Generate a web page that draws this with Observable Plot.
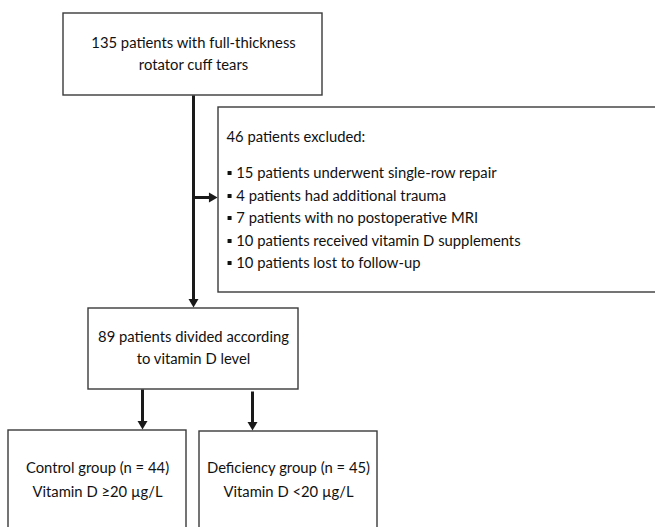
<!DOCTYPE html>
<html><head><meta charset="utf-8">
<script src="https://cdn.jsdelivr.net/npm/d3@7"></script>
<script src="https://cdn.jsdelivr.net/npm/@observablehq/plot@0.6"></script>
<style>
html,body{margin:0;padding:0;background:#fff;}
#chart svg{display:block;}
</style>
</head><body><div id="chart"></div>
<script>
// ---- data (counts) ----
const totalPatients = 135;
const excludedReasons = ["underwent single-row repair","had additional trauma","with no postoperative MRI","received vitamin D supplements","lost to follow-up"];
const excludedCounts = [15, 4, 7, 10, 10];
const groupNames = ["Control group", "Deficiency group"];
const groupCounts = [44, 45];
const groupCriteria = ["Vitamin D \u226520 \u00b5g/L", "Vitamin D <20 \u00b5g/L"];
const excludedTotal = d3.sum(excludedCounts);
const includedTotal = totalPatients - excludedTotal;

// ---- layout (pixel frame of the diagram) ----
const W = 655, H = 527;
const boxes = [
  {x1: 63, x2: 322, y1: 13, y2: 95},
  {x1: 218, x2: 662, y1: 107, y2: 292},
  {x1: 88, x2: 298, y1: 308, y2: 389},
  {x1: 8, x2: 186, y1: 430, y2: 545},
  {x1: 199, x2: 377, y1: 431, y2: 545}
];
const centerTexts = [
  {x: 193, y: 43, t: `${totalPatients} patients with full-thickness`},
  {x: 193, y: 65, t: "rotator cuff tears"},
  {x: 193, y: 337, t: `${includedTotal} patients divided according`},
  {x: 193, y: 359, t: "to vitamin D level"},
  {x: 97, y: 468, t: `${groupNames[0]} (n = ${groupCounts[0]})`},
  {x: 97, y: 492, t: groupCriteria[0]},
  {x: 288, y: 468, t: `${groupNames[1]} (n = ${groupCounts[1]})`},
  {x: 288, y: 492, t: groupCriteria[1]}
];
const listY = [173, 196, 218, 241, 263];
const leftTexts = [{x: 226, y: 137, t: `${excludedTotal} patients excluded:`}]
  .concat(excludedReasons.map((r, i) => ({x: 226, y: listY[i], t: `\u25AA ${excludedCounts[i]} patients ${r}`})));

const arrows = [
  {x1: 193, y1: 95, x2: 193, y2: 308, dir: "down"},
  {x1: 193, y1: 197, x2: 218, y2: 197, dir: "right"},
  {x1: 142, y1: 389, x2: 142, y2: 430, dir: "down"},
  {x1: 252, y1: 391, x2: 252, y2: 431, dir: "down"}
];
const headLen = 10;
const heads = arrows.map(a => a.dir === "down"
  ? {x: a.x2, y: a.y2 - headLen * 2 / 3, rot: 180}
  : {x: a.x2 - headLen * 2 / 3, y: a.y2, rot: 90});
const shafts = arrows.map(a => a.dir === "down"
  ? {...a, y2: a.y2 - headLen + 1}
  : {...a, x2: a.x2 - headLen + 1});

const font = "Lato, 'Open Sans', sans-serif";
const fs = 14.8;

const plot = Plot.plot({
  width: W, height: H,
  margin: 0,
  x: {domain: [0, W], range: [0, W], axis: null},
  y: {domain: [0, H], range: [0, H], axis: null},
  style: {fontFamily: font, background: "#fff"},
  marks: [
    Plot.rect(boxes, {x1: "x1", x2: "x2", y1: "y1", y2: "y2", fill: "white", stroke: "#3a3a3a", strokeWidth: 1.4}),
    Plot.link(shafts, {x1: "x1", y1: "y1", x2: "x2", y2: "y2", stroke: "#1a1a1a", strokeWidth: 3}),
    Plot.dot(heads, {x: "x", y: "y", symbol: "triangle", rotate: "rot", r: 3.7, fill: "#1a1a1a", stroke: "none"}),
    Plot.text(centerTexts, {x: "x", y: "y", text: "t", textAnchor: "middle", fontSize: fs, fill: "#111"}),
    Plot.text(leftTexts, {x: "x", y: "y", text: "t", textAnchor: "start", fontSize: fs, fill: "#111"})
  ]
});
document.getElementById("chart").appendChild(plot);
</script>
</body></html>
